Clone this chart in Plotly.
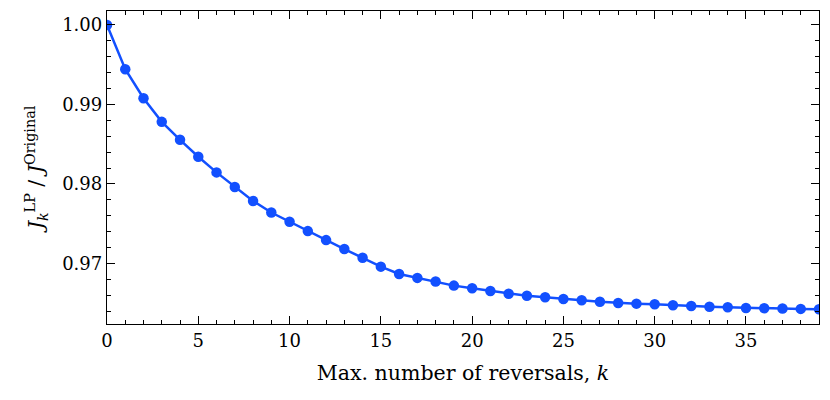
import plotly.graph_objects as go

# max number of reversals k and the normalised objective J_k^LP / J^Original
k_values = list(range(40))
ratio = [
    1.00000, 0.99443, 0.99078, 0.98781, 0.98555, 0.98342, 0.98145, 0.97961,
    0.97785, 0.97640, 0.97523, 0.97406, 0.97293, 0.97180, 0.97070, 0.96959,
    0.96867, 0.96817, 0.96771, 0.96720, 0.96686, 0.96652, 0.96618, 0.96593,
    0.96573, 0.96551, 0.96535, 0.96518, 0.96501, 0.96493, 0.96485, 0.96472,
    0.96464, 0.96455, 0.96447, 0.96439, 0.96435, 0.96431, 0.96427, 0.96422,
]
y_ticks = [0.97, 0.98, 0.99, 1.00]
x_ticks = [0, 5, 10, 15, 20, 25, 30, 35]

blue = "#1250ff"
font_family = "DejaVu Serif, Liberation Serif, serif"

fig = go.Figure()
fig.add_trace(go.Scatter(
    x=k_values, y=ratio,
    mode="lines+markers",
    line=dict(color=blue, width=2.5),
    marker=dict(color=blue, size=10.5),
    showlegend=False,
))

axis_style = dict(
    showline=True, linecolor="black", linewidth=1.3,
    mirror="ticks", ticks="inside", ticklen=8, tickwidth=1.2,
    tickcolor="black", showgrid=False, zeroline=False,
    tickfont=dict(size=18, color="black"),
)

fig.update_xaxes(
    range=[0, 39], tickvals=x_ticks,
    minor=dict(ticks="inside", dtick=1, ticklen=4, tickwidth=1.1,
               tickcolor="black", showgrid=False),
    title=dict(text="Max. number of reversals, <i>k</i>",
               font=dict(size=20.5, color="black"), standoff=15),
    **axis_style,
)
fig.update_yaxes(
    range=[0.96237, 1.00176], tickvals=y_ticks, tickformat=".2f",
    minor=dict(ticks="inside", dtick=0.002, tick0=0.97, ticklen=4,
               tickwidth=1.1, tickcolor="black", showgrid=False),
    title=dict(text="<i>J</i><sub><i>k</i></sub><sup>LP</sup> / <i>J</i><sup>Original</sup>",
               font=dict(size=20.5, color="black"), standoff=12),
    **axis_style,
)

# the page adds an 8px body margin, so the figure is 8px smaller
fig.update_layout(
    width=822, height=392,
    margin=dict(l=99, r=11, t=3, b=76),
    plot_bgcolor="white", paper_bgcolor="white",
    font=dict(family=font_family, color="black"),
)

fig.write_html("out.html")
